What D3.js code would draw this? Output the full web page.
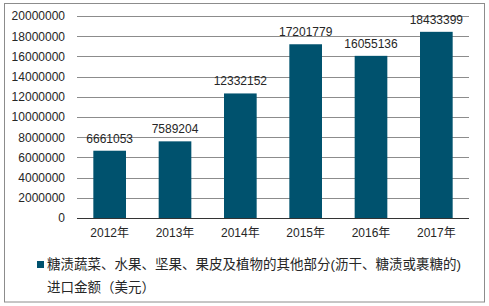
<!DOCTYPE html>
<html>
<head>
<meta charset="UTF-8"/>
<title>糖渍蔬菜进口金额</title>
<script src="https://cdn.jsdelivr.net/npm/d3@7"></script>
<style>
body { margin: 0; background: #fff; }
svg { display: block; }
text { font-family: 'Liberation Sans', 'Noto Sans CJK SC', sans-serif; fill: #262626; }
.grid line { stroke: #8c8c8c; stroke-width: 1; }
.bar { fill: #00526e; }
</style>
</head>
<body>
<svg id="chart" width="489" height="306"></svg>
<script>
const years = ['2012年', '2013年', '2014年', '2015年', '2016年', '2017年'];
const values = [6661053, 7589204, 12332152, 17201779, 16055136, 18433399];
const yTicks = [0, 2000000, 4000000, 6000000, 8000000, 10000000, 12000000, 14000000, 16000000, 18000000, 20000000];
const seriesName = ['糖渍蔬菜、水果、坚果、果皮及植物的其他部分(沥干、糖渍或裹糖的)', '进口金额（美元）'];

const svg = d3.select('#chart');

// outer frame
svg.append('rect')
  .attr('x', 4.5).attr('y', 3.5)
  .attr('width', 480).attr('height', 298.5)
  .attr('fill', 'none')
  .attr('stroke', '#8c8c8c');

const plotLeft = 77, plotRight = 469, plotTop = 16, plotBottom = 218;

const x = d3.scaleBand()
  .domain(years)
  .range([plotLeft, plotRight])
  .paddingInner(0.5)
  .paddingOuter(0.25);

const y = d3.scaleLinear()
  .domain([0, 20000000])
  .range([plotBottom, plotTop]);

// gridlines
svg.append('g')
  .attr('class', 'grid')
  .selectAll('line')
  .data(yTicks.slice(1))
  .enter()
  .append('line')
  .attr('x1', plotLeft).attr('x2', plotRight)
  .attr('y1', d => Math.round(y(d)) + 0.5)
  .attr('y2', d => Math.round(y(d)) + 0.5);

// y axis labels
const yAxis = svg.append('g')
  .attr('transform', `translate(${plotLeft}, 0)`)
  .call(d3.axisLeft(y).tickValues(yTicks).tickSize(0).tickPadding(12).tickFormat(d3.format('d')));
yAxis.select('.domain').remove();
yAxis.selectAll('text').attr('font-size', 12).attr('fill', '#262626').attr('font-family', null);

// bars
svg.selectAll('.bar')
  .data(values)
  .enter()
  .append('rect')
  .attr('class', 'bar')
  .attr('x', (d, i) => x(years[i]))
  .attr('y', d => y(d))
  .attr('width', x.bandwidth())
  .attr('height', d => plotBottom - y(d));

// value labels
svg.selectAll('.value')
  .data(values)
  .enter()
  .append('text')
  .attr('class', 'value')
  .attr('x', (d, i) => x(years[i]) + x.bandwidth() / 2)
  .attr('y', d => y(d) - 8)
  .attr('text-anchor', 'middle')
  .attr('font-size', 12)
  .text(d => d);

// x axis
const xAxis = svg.append('g')
  .attr('transform', `translate(0, ${plotBottom})`)
  .call(d3.axisBottom(x).tickSize(0).tickPadding(10));
xAxis.select('.domain').attr('stroke', '#333').attr('d', `M${plotLeft},0.5H${plotRight}`);
xAxis.selectAll('text').attr('font-size', 12).attr('fill', '#262626').attr('font-family', null);

// legend
svg.append('rect')
  .attr('x', 37).attr('y', 261)
  .attr('width', 7).attr('height', 7)
  .attr('fill', '#00526e');

svg.selectAll('.legend')
  .data(seriesName)
  .enter()
  .append('text')
  .attr('class', 'legend')
  .attr('x', 47)
  .attr('y', (d, i) => 269 + i * 23)
  .attr('font-size', 13.5)
  .text(d => d);
</script>
</body>
</html>
